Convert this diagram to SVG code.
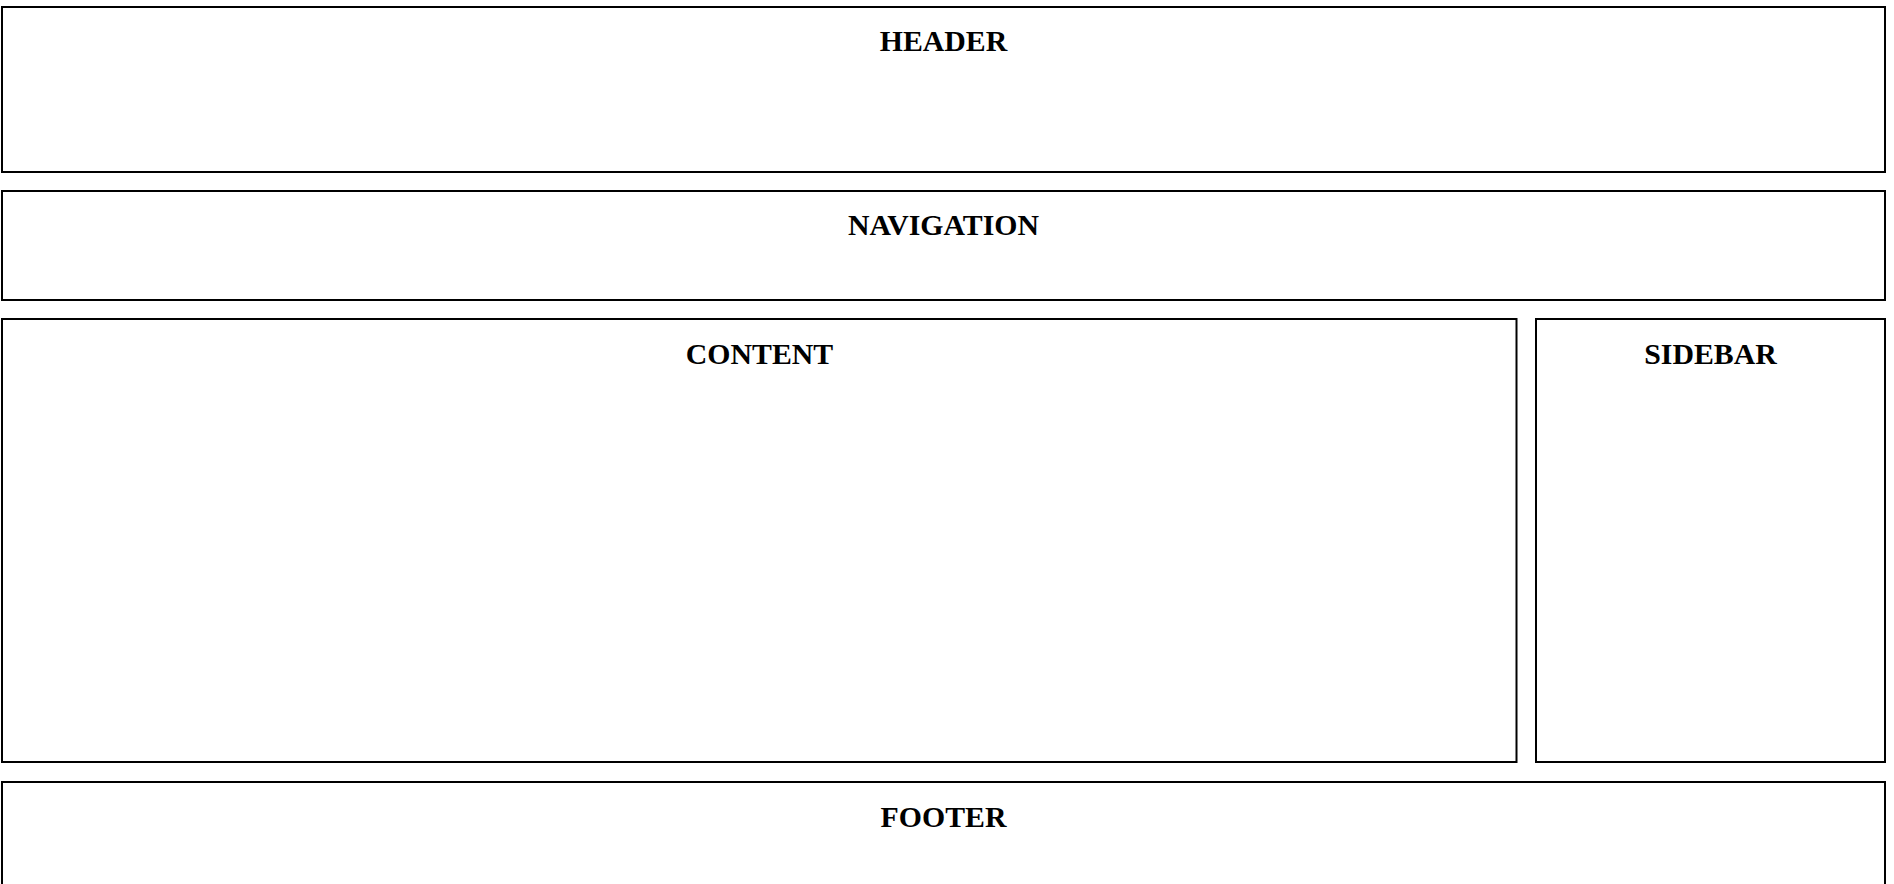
<svg xmlns="http://www.w3.org/2000/svg" width="1894" height="884" viewBox="0 0 1894 884">
  <style>
    .box { fill: #ffffff; stroke: #000000; stroke-width: 2; }
    .label { font-family: "Liberation Serif", "Times New Roman", serif; font-weight: bold; font-size: 29.8px; fill: #000000; text-anchor: middle; }
  </style>
  <rect x="0" y="0" width="1894" height="884" fill="#ffffff"/>
  <g id="header">
    <rect class="box" x="2" y="7" width="1883" height="165"/>
    <text class="label" x="943.5" y="51">HEADER</text>
  </g>
  <g id="navigation">
    <rect class="box" x="2" y="191" width="1883" height="109"/>
    <text class="label" x="943.5" y="235">NAVIGATION</text>
  </g>
  <g id="content">
    <rect class="box" x="2" y="319" width="1514.5" height="443"/>
    <text class="label" x="759.5" y="363.5">CONTENT</text>
  </g>
  <g id="sidebar">
    <rect class="box" x="1536" y="319" width="349" height="443"/>
    <text class="label" x="1710.5" y="363.5">SIDEBAR</text>
  </g>
  <g id="footer">
    <rect class="box" x="2" y="782" width="1883" height="140"/>
    <text class="label" x="943.5" y="826.5">FOOTER</text>
  </g>
  <g id="connectors"></g>
</svg>
